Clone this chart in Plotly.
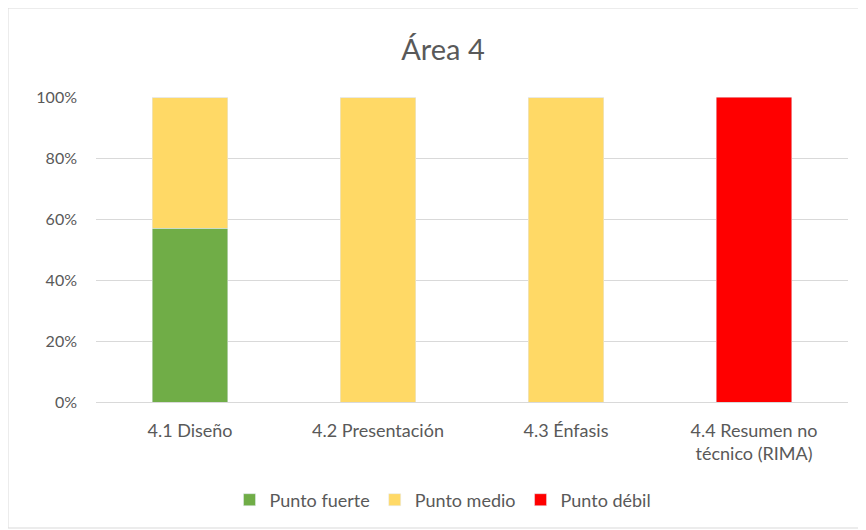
import plotly.graph_objects as go

categories = ["4.1 Diseño", "4.2 Presentación", "4.3 Énfasis", "4.4 Resumen no<br>técnico (RIMA)"]
fuerte = [0.57, 0, 0, 0]
medio = [0.43, 1.0, 1.0, 0]
debil = [0, 0, 0, 1.0]
y_ticks = [0, 0.2, 0.4, 0.6, 0.8, 1.0]
y_labels = ["0%", "20%", "40%", "60%", "80%", "100%"]

OFF = 8  # page body margin
W, H = 866, 530
L, T = 96 - OFF, 97 - OFF
pw, ph = 752, 305
R = W - L - pw
B = H - T - ph

def px_x(page_x):
    return (page_x - OFF - L) / pw

def px_y(page_y):
    return (T + ph - (page_y - OFF)) / ph

fig = go.Figure()
fig.add_bar(x=categories, y=fuerte, name="Punto fuerte", marker_color="#70AD47")
fig.add_bar(x=categories, y=medio, name="Punto medio", marker_color="#FFD966")
fig.add_bar(x=categories, y=debil, name="Punto débil", marker_color="#FF0000")

font_fam = "Lato, Open Sans, sans-serif"
fig.update_layout(
    barmode="stack",
    bargap=0.6,
    width=W, height=H,
    margin=dict(l=L, r=R, t=T, b=B, autoexpand=False),
    paper_bgcolor="white",
    plot_bgcolor="white",
    font=dict(family=font_fam, size=17, color="#595959"),
    title=dict(text="Área 4", x=px_x(443), xanchor="center", xref="paper",
               y=1 - (50 - OFF) / H, yanchor="middle",
               font=dict(size=29, color="#595959", family=font_fam)),
    legend=dict(orientation="h", x=px_x(443), xanchor="center", y=px_y(500), yanchor="middle",
                font=dict(size=18, color="#595959"), traceorder="normal"),
    xaxis=dict(showgrid=False, showline=True, linecolor="#D9D9D9", linewidth=1, ticks="",
               ticklabelstandoff=12, tickfont=dict(size=18, color="#595959")),
    yaxis=dict(range=[0, 1.0], tickvals=y_ticks, ticktext=y_labels, showgrid=True,
               gridcolor="#D9D9D9", gridwidth=1, zeroline=False, ticks="", ticklabelstandoff=18,
               tickfont=dict(size=16, color="#595959")),
    shapes=[dict(type="rect", xref="paper", yref="paper",
                 x0=px_x(8), x1=px_x(864),
                 y0=px_y(528), y1=px_y(8),
                 line=dict(color="#D9D9D9", width=1), fillcolor="rgba(0,0,0,0)", layer="below")],
)
fig.write_html("out.html")
